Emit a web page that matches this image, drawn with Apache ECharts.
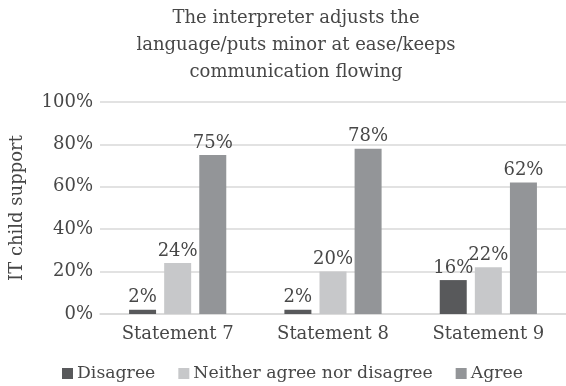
<!DOCTYPE html>
<html>
<head>
<meta charset="utf-8">
<script src="https://cdn.jsdelivr.net/npm/echarts@6/dist/echarts.min.js"></script>
<style>
  html, body { margin: 0; padding: 0; background: #ffffff; }
  #chart { width: 566px; height: 386px; }
</style>
</head>
<body>
<div id="chart"></div>
<script>
// Survey responses per statement, in percent
const categories = ['Statement 7', 'Statement 8', 'Statement 9'];
const disagree = [2, 2, 16];
const neither = [24, 20, 22];
const agree = [75, 78, 62];
const seriesNames = ['Disagree', 'Neither agree nor disagree', 'Agree'];
const yTicks = [0, 20, 40, 60, 80, 100];

const FONT = 'DejaVu Serif';
const TEXT = '#474747';
const SIZE = 18;

const chart = echarts.init(document.getElementById('chart'), null, { renderer: 'canvas' });

function barSeries(name, values, color) {
  return {
    name: name,
    type: 'bar',
    data: values,
    barWidth: 27,
    barGap: '30%',
    itemStyle: { color: color },
    label: {
      show: true,
      position: 'top',
      distance: 3,
      formatter: '{c}%',
      fontFamily: FONT,
      fontSize: SIZE,
      color: TEXT
    }
  };
}

chart.setOption({
  animation: false,
  title: {
    text: 'The interpreter adjusts the\nlanguage/puts minor at ease/keeps\ncommunication flowing',
    left: 291,
    top: 0,
    textAlign: 'center',
    textStyle: {
      fontFamily: FONT,
      fontWeight: 'normal',
      fontSize: 18,
      lineHeight: 27,
      color: TEXT
    }
  },
  legend: {
    top: 365,
    left: 62,
    padding: 0,
    itemWidth: 11,
    itemHeight: 11,
    itemGap: 23,
    icon: 'rect',
    textStyle: { fontFamily: FONT, fontSize: 17.3, color: TEXT, padding: [0, 0, 0, -1] },
    data: seriesNames
  },
  grid: {
    left: 100,
    top: 102,
    width: 474,
    height: 212,
    containLabel: false
  },
  xAxis: {
    type: 'category',
    data: categories,
    axisLine: { lineStyle: { color: '#d9d9d9', width: 1.5 } },
    axisTick: { show: false },
    axisLabel: { fontFamily: FONT, fontSize: SIZE, color: TEXT, margin: 11 }
  },
  yAxis: {
    type: 'value',
    min: yTicks[0],
    max: yTicks[yTicks.length - 1],
    interval: 20,
    name: 'IT child support',
    nameLocation: 'middle',
    nameRotate: 90,
    nameGap: 74,
    nameTextStyle: { fontFamily: FONT, fontSize: SIZE, color: TEXT },
    axisLine: { show: false },
    axisTick: { show: false },
    splitLine: { lineStyle: { color: '#d9d9d9', width: 1.5 } },
    axisLabel: {
      fontFamily: FONT,
      fontSize: SIZE,
      color: TEXT,
      margin: 7,
      formatter: '{value}%'
    }
  },
  series: [
    barSeries(seriesNames[0], disagree, '#58595b'),
    barSeries(seriesNames[1], neither, '#c7c8ca'),
    barSeries(seriesNames[2], agree, '#939598')
  ]
});
</script>
</body>
</html>
